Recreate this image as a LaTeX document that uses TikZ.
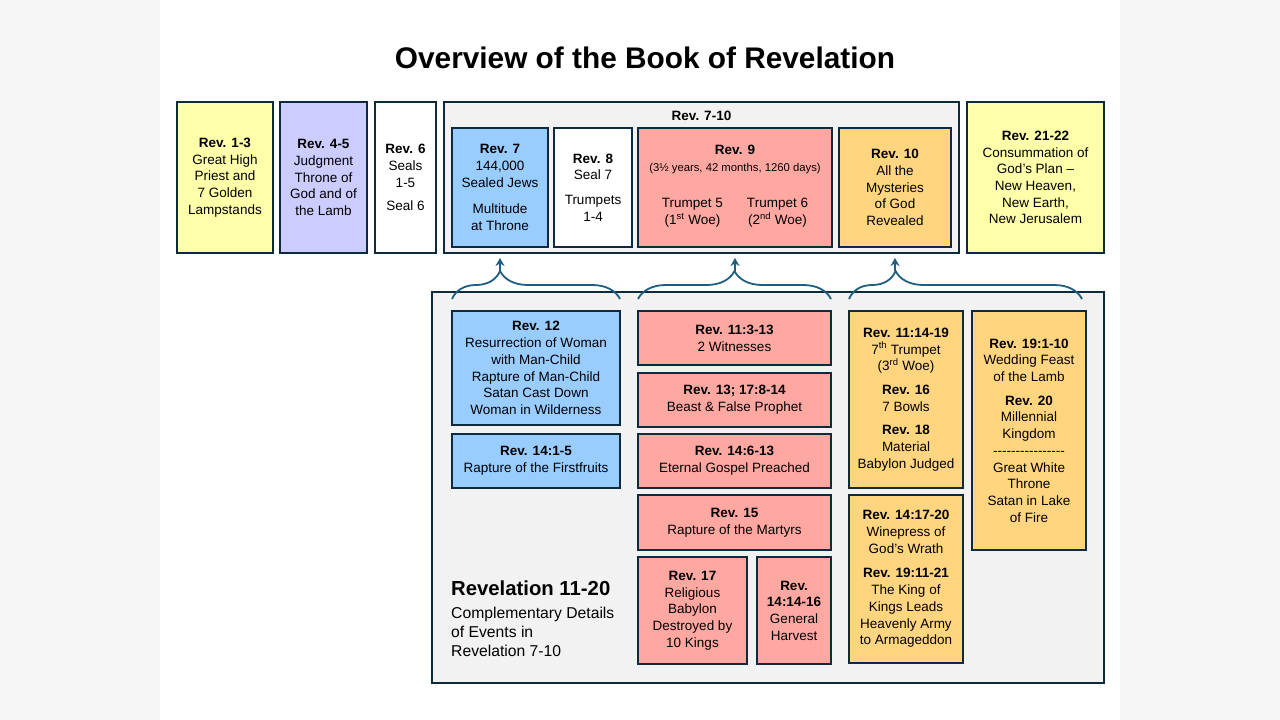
\documentclass[tikz,border=0pt]{standalone}
\usepackage{fontspec}
\setmainfont{Liberation Sans}
\usepackage{tikz}
\usetikzlibrary{arrows.meta, positioning, decorations.pathreplacing, calc}

\definecolor{edgeblue}{HTML}{0E2B3D}
\definecolor{pale}{HTML}{FFFFAA}
\definecolor{lilac}{HTML}{CCCCFF}
\definecolor{sky}{HTML}{99CCFF}
\definecolor{salmon}{HTML}{FFA8A2}
\definecolor{amber}{HTML}{FFD580}
\definecolor{panel}{HTML}{F2F2F2}
\definecolor{side}{HTML}{F5F5F5}
\definecolor{bracecol}{HTML}{1F5E80}

\newcommand{\boxfont}{\fontsize{13.5}{16.7}\selectfont}
\newcommand{\dashrow}{\mbox{-}\mbox{-}\mbox{-}\mbox{-}\mbox{-}\mbox{-}\mbox{-}\mbox{-}\mbox{-}\mbox{-}\mbox{-}\mbox{-}\mbox{-}\mbox{-}\mbox{-}\mbox{-}}

\begin{document}
\begin{tikzpicture}[x=1pt, y=-1pt,
  revbox/.style={draw=edgeblue, line width=1.8pt, align=center, inner sep=0pt, outer sep=0pt, font=\boxfont},
  lead/.style={draw=bracecol, line width=1.8pt},
  curly/.style={lead, decorate, decoration={brace, amplitude=28pt, aspect=#1}}]

% --- Page ---
\useasboundingbox (0,0) rectangle (1280,720);
\fill[side] (0,0) rectangle (1280,720);
\fill[white] (160,0) rectangle (1120,720);

\node[font=\fontsize{29.8}{35}\selectfont\bfseries] (title) at (645,58) {Overview of the Book of Revelation};

% --- Top row ---
\node[revbox, fill=pale, minimum width=96, minimum height=151] (r13) at (225,177.5)
  {\textbf{Rev. 1-3}\\Great High\\Priest and\\7 Golden\\Lampstands};
\node[revbox, fill=lilac, minimum width=87, minimum height=151] (r45) at (323.5,177.5)
  {\textbf{Rev. 4-5}\\Judgment\\Throne of\\God and of\\the Lamb};
\node[revbox, fill=white, minimum width=61, minimum height=151] (r6) at (405.5,177.5)
  {\textbf{Rev. 6}\\Seals\\1-5\\[7pt]Seal 6};

\node[revbox, fill=panel, minimum width=515, minimum height=151] (g710) at (701.5,177.5) {};
\node[font=\boxfont\bfseries] (l710) at (701.5,116) {Rev. 7-10};

\node[revbox, fill=sky, minimum width=96, minimum height=119] (r7) at (500,187.5)
  {\textbf{Rev. 7}\\144,000\\Sealed Jews\\[10pt]Multitude\\at Throne};
\node[revbox, fill=white, minimum width=78, minimum height=119] (r8) at (593,187.5)
  {\textbf{Rev. 8}\\Seal 7\\[8pt]Trumpets\\1-4};
\node[revbox, fill=salmon, minimum width=194, minimum height=119] (r9) at (735,187.5)
  {\textbf{Rev. 9}\\{\fontsize{11.3}{13}\selectfont (3½ years, 42 months, 1260 days)}\\[19pt]
   \begin{tabular}[t]{@{}c@{\hspace{24pt}}c@{}}Trumpet 5 & Trumpet 6\\(1\textsuperscript{st} Woe) & (2\textsuperscript{nd} Woe)\end{tabular}};
\node[revbox, fill=amber, minimum width=112, minimum height=119] (r10) at (895,187.5)
  {\textbf{Rev. 10}\\All the\\Mysteries\\of God\\Revealed};

\node[revbox, fill=pale, minimum width=137, minimum height=151] (r2122) at (1035.5,177.5)
  {\textbf{Rev. 21-22}\\Consummation of\\God’s Plan –\\New Heaven,\\New Earth,\\New Jerusalem};

% --- Revelation 11-20 panel ---
\node[revbox, fill=panel, minimum width=672, minimum height=391] (g1120) at (768,487.5) {};

\node[revbox, fill=sky, minimum width=168, minimum height=114] (r12) at (536,368)
  {\textbf{Rev. 12}\\Resurrection of Woman\\with Man-Child\\Rapture of Man-Child\\Satan Cast Down\\Woman in Wilderness};
\node[revbox, fill=sky, minimum width=168, minimum height=54] (r1415) at (536,461)
  {\textbf{Rev. 14:1-5}\\Rapture of the Firstfruits};

\node[revbox, fill=salmon, minimum width=193, minimum height=54] (r1113) at (734.5,338)
  {\textbf{Rev. 11:3-13}\\2 Witnesses};
\node[revbox, fill=salmon, minimum width=193, minimum height=54] (r1317) at (734.5,400)
  {\textbf{Rev. 13; 17:8-14}\\Beast \& False Prophet};
\node[revbox, fill=salmon, minimum width=193, minimum height=54] (r1406) at (734.5,461)
  {\textbf{Rev. 14:6-13}\\Eternal Gospel Preached};
\node[revbox, fill=salmon, minimum width=193, minimum height=55] (r15) at (734.5,522.5)
  {\textbf{Rev. 15}\\Rapture of the Martyrs};
\node[revbox, fill=salmon, minimum width=109, minimum height=107] (r17) at (692.5,610.5)
  {\textbf{Rev. 17}\\Religious\\Babylon\\Destroyed by\\10 Kings};
\node[revbox, fill=salmon, minimum width=74, minimum height=107] (r1414) at (794,610.5)
  {\textbf{Rev.}\\\textbf{14:14-16}\\General\\Harvest};

\node[revbox, fill=amber, minimum width=114, minimum height=177] (r1114) at (906,399.5)
  {\textbf{Rev. 11:14-19}\\7\textsuperscript{th} Trumpet\\(3\textsuperscript{rd} Woe)\\[7pt]\textbf{Rev. 16}\\7 Bowls\\[7pt]\textbf{Rev. 18}\\Material\\Babylon Judged};
\node[revbox, fill=amber, minimum width=114, minimum height=168] (r1417) at (906,579)
  {\textbf{Rev. 14:17-20}\\Winepress of\\God’s Wrath\\[8pt]\textbf{Rev. 19:11-21}\\The King of\\Kings Leads\\Heavenly Army\\to Armageddon};
\node[revbox, fill=amber, minimum width=114, minimum height=239] (r1901) at (1029,430.5)
  {\textbf{Rev. 19:1-10}\\Wedding Feast\\of the Lamb\\[7pt]\textbf{Rev. 20}\\Millennial\\Kingdom\\\dashrow\\Great White\\Throne\\Satan in Lake\\of Fire};

\node[anchor=west, inner sep=0pt, font=\fontsize{20.3}{24}\selectfont\bfseries] (rev1120) at (451,588) {Revelation 11-20};
\node[below=11pt of rev1120.south west, anchor=north west, align=left, inner sep=0pt,
  font=\fontsize{15.7}{19}\selectfont] (cmpl) {Complementary Details\\of Events in\\Revelation 7-10};

% --- Braces and arrows up to Rev. 7-10 ---
\draw[curly=0.286] ([yshift=12pt]r12.north west) -- ([yshift=12pt]r12.north east);
\draw[curly=0.5] ([yshift=12pt]r1113.north west) -- ([yshift=12pt]r1113.north east);
\draw[curly=0.2] ([yshift=12pt]r1114.north west) -- ([yshift=12pt, xshift=-4pt]r1901.north east);

\draw[lead, -{Stealth[length=8pt, width=9pt]}] ($(r7.south |- r12.north)+(0,-40)$) -- ($(r7.south |- g710.south)+(0,5)$);
\draw[lead, -{Stealth[length=8pt, width=9pt]}] ($(r9.south |- r1113.north)+(0,-40)$) -- ($(r9.south |- g710.south)+(0,5)$);
\draw[lead, -{Stealth[length=8pt, width=9pt]}] ($(r10.south |- r1114.north)+(0,-40)$) -- ($(r10.south |- g710.south)+(0,5)$);

\end{tikzpicture}
\end{document}
